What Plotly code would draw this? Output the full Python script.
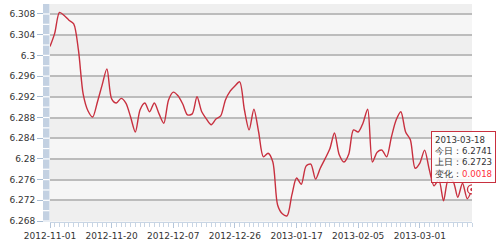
import plotly.graph_objects as go

# Daily rate values (trading days, 2012-11-01 .. 2013-03-18)
rates = [
    6.3017, 6.3043, 6.3083, 6.3077, 6.3068, 6.3061, 6.3010, 6.2925, 6.2893, 6.2881,
    6.2910, 6.2943, 6.2974, 6.2916, 6.2908, 6.2917, 6.2908, 6.2881, 6.2852, 6.2895,
    6.2908, 6.2891, 6.2908, 6.2887, 6.2869, 6.2914, 6.2929, 6.2922, 6.2906, 6.2885,
    6.2887, 6.2920, 6.2891, 6.2877, 6.2866, 6.2877, 6.2883, 6.2914, 6.2931, 6.2941,
    6.2949, 6.2895, 6.2856, 6.2896, 6.2852, 6.2804, 6.2811, 6.2794, 6.2711, 6.2694,
    6.2690, 6.2730, 6.2763, 6.2751, 6.2786, 6.2790, 6.2761, 6.2782, 6.2800, 6.2819,
    6.2850, 6.2808, 6.2794, 6.2809, 6.2856, 6.2852, 6.2869, 6.2896, 6.2794, 6.2813,
    6.2817, 6.2804, 6.2842, 6.2875, 6.2891, 6.2852, 6.2837, 6.2782, 6.2792, 6.2817,
    6.2779, 6.2748, 6.2760, 6.2719, 6.2760, 6.2757, 6.2726, 6.2753, 6.2723, 6.2741,
]
x_labels = ["2012-11-01", "2012-11-20", "2012-12-07", "2012-12-26",
            "2013-01-17", "2013-02-05", "2013-03-01"]
label_step = 13
y_ticks = [6.268, 6.272, 6.276, 6.28, 6.284, 6.288, 6.292, 6.296, 6.3, 6.304, 6.308]
y_text = ["6.268", "6.272", "6.276", "6.28", "6.284", "6.288", "6.292", "6.296", "6.3", "6.304", "6.308"]
tip_date = "2013-03-18"
tip_today = 6.2741
tip_prev = 6.2723

LINE = "#c8303f"
xs = list(range(len(rates)))
ymin, ymax = 6.26781, 6.30993

fig = go.Figure()
fig.add_trace(go.Scatter(x=xs, y=rates, mode="lines",
                         line=dict(color=LINE, width=1.4, shape="spline", smoothing=0.8),
                         hoverinfo="skip"))
fig.add_trace(go.Scatter(x=[xs[-1]], y=[rates[-1]], mode="markers",
                         marker=dict(symbol="circle", size=9, color="white",
                                     line=dict(color=LINE, width=1.3)), hoverinfo="skip"))
fig.add_trace(go.Scatter(x=[xs[-1]], y=[rates[-1]], mode="markers",
                         marker=dict(symbol="circle", size=3.5, color=LINE), hoverinfo="skip"))

shapes = []
# alternating bands
bounds = [ymin] + y_ticks + [ymax]
for i in range(len(bounds) - 1):
    col = "#f6f6f6" if i % 2 == 0 else "#efefef"
    shapes.append(dict(type="rect", xref="paper", yref="y", x0=0, x1=1,
                       y0=bounds[i], y1=bounds[i + 1], fillcolor=col,
                       line=dict(width=0), layer="below"))
# blue vertical bar left of plot
shapes.append(dict(type="rect", xref="paper", yref="paper", x0=-7 / 422, x1=-0.5 / 422,
                   y0=0, y1=1, fillcolor="#c3d1e2", line=dict(width=0), layer="above"))
k = 0
while y_ticks[0] + k * 0.002 < ymax:
    yy = y_ticks[0] + k * 0.002
    shapes.append(dict(type="line", xref="paper", yref="y", x0=-7 / 422, x1=-0.5 / 422,
                       y0=yy, y1=yy, line=dict(color="white", width=1.2), layer="above"))
    k += 1

tip_text = (f"{tip_date}<br>今日：{tip_today:.4f}<br>上日：{tip_prev:.4f}<br>"
            f"变化：<span style='color:#ff3040'>{tip_today - tip_prev:.4f}</span>")

fig.update_layout(
    width=500, height=244,
    margin=dict(l=50, r=28, t=4, b=22),
    paper_bgcolor="white", plot_bgcolor="#f4f4f4",
    showlegend=False,
    shapes=shapes,
    annotations=[dict(xref="paper", yref="paper", x=0.902, y=0.418,
                      xanchor="left", yanchor="top", text=tip_text, showarrow=False,
                      align="left", bgcolor="rgba(255,255,255,0.82)",
                      bordercolor=LINE, borderwidth=1, borderpad=3,
                      font=dict(family="DejaVu Sans", size=8.6, color="#333333"))],
    font=dict(family="DejaVu Sans", size=9, color="#333333"),
)
fig.update_xaxes(range=[0, len(rates) - 1],
                 tickvals=[i * label_step for i in range(len(x_labels))],
                 ticktext=x_labels, showgrid=False, zeroline=False,
                 ticks="outside", ticklen=5, tickcolor="#b5c6da", tickwidth=1,
                 minor=dict(dtick=1, tick0=0, ticks="outside", ticklen=4,
                            tickcolor="#c8d5e4", showgrid=False),
                 showline=True, linecolor="#c8d5e4", linewidth=1,
                 tickfont=dict(size=9, color="#333333"))
fig.update_yaxes(range=[ymin, ymax], tickvals=y_ticks, ticktext=y_text,
                 showgrid=True, gridcolor="#bcbcbc", gridwidth=1.5, zeroline=False,
                 ticks="outside", ticklen=12, tickcolor="#a9bdd3", tickwidth=1,
                 tickfont=dict(size=9, color="#333333"))

fig.write_html("out.html")
